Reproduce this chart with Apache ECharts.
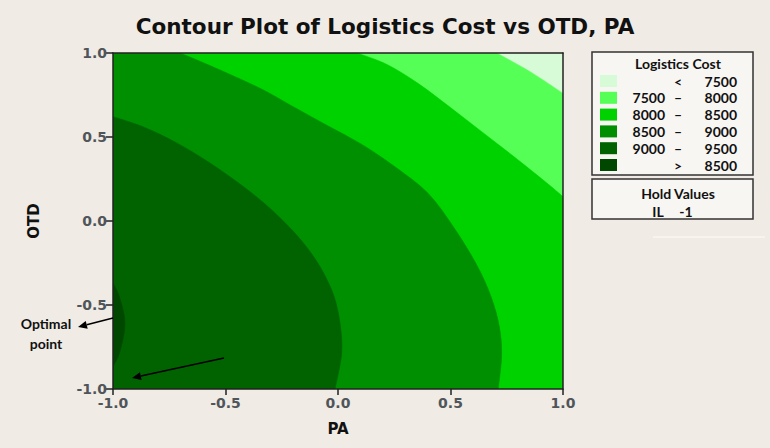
<!DOCTYPE html>
<html><head><meta charset="utf-8">
<script src="https://cdn.jsdelivr.net/npm/echarts@6/dist/echarts.min.js"></script>
<style>html,body{margin:0;padding:0;background:#f0ebe5}#c{width:770px;height:448px}</style>
</head><body><div id="c"></div>
<script>
// ---- data ----
const axisTicks = [-1.0, -0.5, 0.0, 0.5, 1.0];
const levelColors = ['#d6fbd6', '#55ff55', '#00d200', '#008f00', '#006300', '#004800'];
const legendLow  = ['', '7500', '8000', '8500', '9000', ''];
const legendSym  = ['<', '\u2013', '\u2013', '\u2013', '\u2013', '>'];
const legendHigh = ['7500', '8000', '8500', '9000', '9500', '8500'];
const holdName = 'IL';
const holdValue = '-1';
// contour boundaries [PA, OTD]
const fullBox = [[-1, -1], [1, -1], [1, 1], [-1, 1]];
const boundary7500 = [[0.705, 1], [0.853, 0.889], [1, 0.76]];
const boundary8000 = [[0.085, 1], [0.22, 0.93], [0.36, 0.815], [0.50, 0.675], [0.64, 0.53], [0.78, 0.385], [0.92, 0.235], [1, 0.145]];
const boundary8500 = [[-0.702, 1], [-0.569, 0.925], [-0.347, 0.79], [-0.199, 0.68], [-0.05, 0.57], [0.113, 0.45], [0.261, 0.315], [0.40, 0.165], [0.513, -0.035], [0.616, -0.26], [0.68, -0.45], [0.717, -0.63], [0.727, -0.8], [0.712, -1]];
const boundary9000 = [[-1, 0.621], [-0.865, 0.56], [-0.717, 0.465], [-0.569, 0.345], [-0.421, 0.205], [-0.302, 0.075], [-0.2, -0.06], [-0.12, -0.19], [-0.06, -0.32], [-0.015, -0.46], [0.01, -0.62], [0.016, -0.79], [-0.013, -1]];
const boundary9500 = [[-1, -0.371], [-0.972, -0.45], [-0.947, -0.609], [-0.97, -0.78], [-1, -0.867]];
const boundaries = [null, boundary7500, boundary8000, boundary8500, boundary9000, boundary9500];

const chart = echarts.init(document.getElementById('c'), null, {renderer: 'svg'});
const tickFont = {fontFamily: 'DejaVu Sans', fontWeight: 'bold', fontSize: 14, color: '#50555a'};
const lbl = 'Lato';

// path for the region "above" a level: corner(s) + smoothed boundary
function regionPath(b, api) {
  if (!b) {
    const p = fullBox.map(q => api.coord(q));
    return 'M' + p.map(q => q[0] + ',' + q[1]).join('L') + 'Z';
  }
  const pre = [[-1, -1]];
  if (b[0][1] === 1) pre.push([-1, 1]);
  const post = [];
  if (b[b.length - 1][0] === 1) post.push([1, -1]);
  const P = b.map(q => api.coord(q));
  let d = 'M' + pre.map(q => api.coord(q).join(',')).join('L') + 'L' + P[0].join(',');
  for (let i = 0; i < P.length - 1; i++) {
    const p0 = P[Math.max(0, i - 1)], p1 = P[i], p2 = P[i + 1], p3 = P[Math.min(P.length - 1, i + 2)];
    const c1 = [p1[0] + (p2[0] - p0[0]) / 6, p1[1] + (p2[1] - p0[1]) / 6];
    const c2 = [p2[0] - (p3[0] - p1[0]) / 6, p2[1] - (p3[1] - p1[1]) / 6];
    d += 'C' + c1.join(',') + ' ' + c2.join(',') + ' ' + p2.join(',');
  }
  post.forEach(q => { d += 'L' + api.coord(q).join(','); });
  return d + 'Z';
}

const graphics = [];
graphics.push({type: 'rect', shape: {x: 592, y: 52, width: 161, height: 123}, style: {fill: '#f8f6f3', stroke: '#333', lineWidth: 1.5}});
graphics.push({type: 'text', style: {text: 'Logistics Cost', x: 678, y: 63, align: 'center', verticalAlign: 'middle', font: 'bold 14px ' + lbl, fill: '#111'}});
for (let i = 0; i < levelColors.length; i++) {
  const y = 81 + i * 16.8;
  graphics.push({type: 'rect', shape: {x: 600, y: y - 6, width: 17, height: 12}, style: {fill: levelColors[i]}});
  graphics.push({type: 'text', style: {text: legendLow[i], x: 665, y: y, align: 'right', verticalAlign: 'middle', font: 'bold 14px ' + lbl, fill: '#111'}});
  graphics.push({type: 'text', style: {text: legendSym[i], x: 678, y: y, align: 'center', verticalAlign: 'middle', font: 'bold 14px ' + lbl, fill: '#111'}});
  graphics.push({type: 'text', style: {text: legendHigh[i], x: 737, y: y, align: 'right', verticalAlign: 'middle', font: 'bold 14px ' + lbl, fill: '#111'}});
}
graphics.push({type: 'rect', shape: {x: 592, y: 179, width: 161, height: 40}, style: {fill: '#f8f6f3', stroke: '#333', lineWidth: 1.5}});
graphics.push({type: 'text', style: {text: 'Hold Values', x: 678, y: 193, align: 'center', verticalAlign: 'middle', font: 'bold 14px ' + lbl, fill: '#111'}});
graphics.push({type: 'text', style: {text: holdName, x: 658, y: 211, align: 'center', verticalAlign: 'middle', font: 'bold 14px ' + lbl, fill: '#111'}});
graphics.push({type: 'text', style: {text: holdValue, x: 686, y: 211, align: 'center', verticalAlign: 'middle', font: 'bold 14px ' + lbl, fill: '#111'}});
graphics.push({type: 'rect', shape: {x: 653, y: 236, width: 112, height: 2}, style: {fill: '#f8f3ec'}});
graphics.push({type: 'text', style: {text: 'Optimal', x: 46, y: 323, align: 'center', verticalAlign: 'middle', font: 'bold 14px ' + lbl, fill: '#111'}});
graphics.push({type: 'text', style: {text: 'point', x: 46, y: 343, align: 'center', verticalAlign: 'middle', font: 'bold 14px ' + lbl, fill: '#111'}});
function arrow(x1, y1, x2, y2) {
  const a = Math.atan2(y2 - y1, x2 - x1), L = 9, W = 4;
  const bx = x2 - L * Math.cos(a), by = y2 - L * Math.sin(a);
  graphics.push({type: 'line', z: 100, shape: {x1: x1, y1: y1, x2: bx, y2: by}, style: {stroke: '#000', lineWidth: 1.6}});
  graphics.push({type: 'polygon', z: 100, shape: {points: [[x2, y2], [bx - W * Math.sin(a), by + W * Math.cos(a)], [bx + W * Math.sin(a), by - W * Math.cos(a)]]}, style: {fill: '#000'}});
}
arrow(113, 318, 78, 327);
arrow(224, 358, 132, 378);

chart.setOption({
  backgroundColor: '#f0ebe5',
  animation: false,
  title: {text: 'Contour Plot of Logistics Cost vs OTD, PA', left: 'center', top: 10,
    textStyle: {fontFamily: 'DejaVu Sans', fontWeight: 'bold', fontSize: 21.5, color: '#111'}},
  grid: {left: 113, top: 53, width: 450, height: 336},
  xAxis: [{
    type: 'value', min: axisTicks[0], max: axisTicks[axisTicks.length - 1], interval: 0.5, z: 10,
    name: 'PA', nameLocation: 'middle', nameGap: 32,
    nameTextStyle: {fontFamily: 'DejaVu Sans', fontWeight: 'bold', fontSize: 15, color: '#111'},
    axisLine: {show: true, onZero: false, lineStyle: {color: '#222', width: 1.5}},
    axisTick: {show: true, length: 6, lineStyle: {color: '#222', width: 1.5}},
    axisLabel: Object.assign({margin: 7, formatter: v => v.toFixed(1)}, tickFont),
    splitLine: {show: false}
  }, {
    type: 'value', position: 'top', min: -1, max: 1, z: 10,
    axisLine: {show: true, onZero: false, lineStyle: {color: '#222', width: 1.5}},
    axisTick: {show: false}, axisLabel: {show: false}, splitLine: {show: false}
  }],
  yAxis: [{
    type: 'value', min: axisTicks[0], max: axisTicks[axisTicks.length - 1], interval: 0.5, z: 10,
    name: 'OTD', nameLocation: 'middle', nameGap: 72, nameRotate: 90,
    nameTextStyle: {fontFamily: 'DejaVu Sans', fontWeight: 'bold', fontSize: 15, color: '#111'},
    axisLine: {show: true, onZero: false, lineStyle: {color: '#222', width: 1.5}},
    axisTick: {show: true, length: 7, lineStyle: {color: '#222', width: 1.5}},
    axisLabel: Object.assign({margin: 6, formatter: v => v.toFixed(1)}, tickFont),
    splitLine: {show: false}
  }, {
    type: 'value', position: 'right', min: -1, max: 1, z: 10,
    axisLine: {show: true, onZero: false, lineStyle: {color: '#222', width: 1.5}},
    axisTick: {show: false}, axisLabel: {show: false}, splitLine: {show: false}
  }],
  graphic: graphics,
  series: [{
    type: 'custom',
    coordinateSystem: 'cartesian2d',
    xAxisIndex: 0, yAxisIndex: 0,
    data: boundaries.map((b, i) => [i]),
    encode: {x: -1, y: -1},
    clip: true,
    renderItem: function (params, api) {
      const idx = api.value(0);
      return {type: 'path', shape: {pathData: regionPath(boundaries[idx], api)},
        style: {fill: levelColors[idx], stroke: levelColors[idx], lineWidth: 0.6}};
    }
  }]
});
</script></body></html>
